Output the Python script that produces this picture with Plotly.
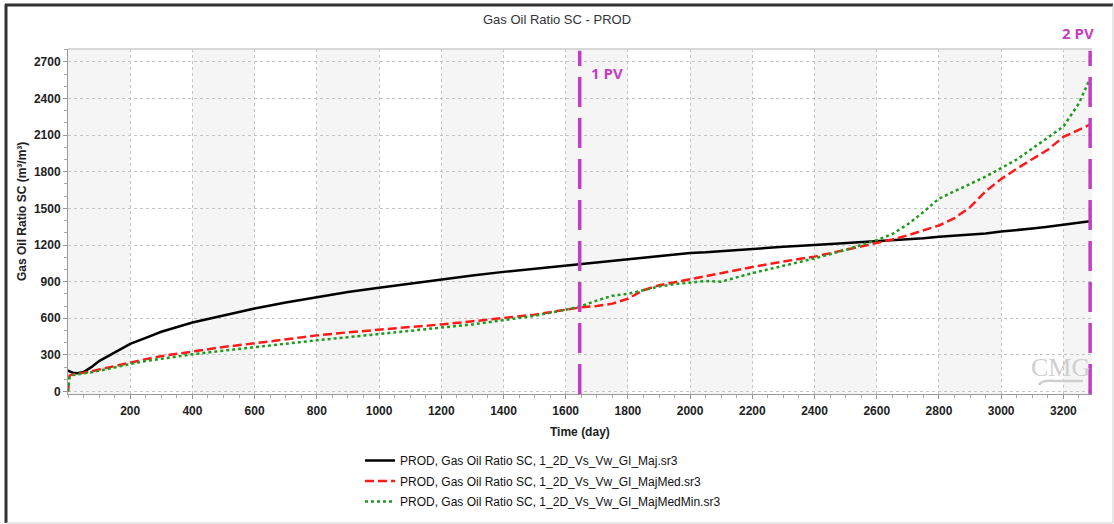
import plotly.graph_objects as go

# Simulation time (days)
time_day = [0, 5, 15, 30, 50, 75, 100, 150, 200, 250, 300, 400, 500, 600, 700, 800,
            900, 1000, 1100, 1200, 1300, 1400, 1500, 1600, 1650, 1700, 1750, 1800,
            1850, 1900, 1950, 2000, 2050, 2100, 2150, 2200, 2300, 2400, 2500, 2600,
            2650, 2700, 2750, 2800, 2850, 2900, 2950, 3000, 3050, 3100, 3150, 3200,
            3250, 3285]

# Gas oil ratio at surface conditions (m3/m3)
gor_maj = [175, 165, 155, 150, 160, 200, 250, 320, 390, 440, 490, 565, 625, 680, 730, 775,
           815, 850, 885, 915, 950, 980, 1005, 1030, 1045, 1060, 1070, 1085,
           1095, 1110, 1120, 1135, 1140, 1150, 1160, 1170, 1185, 1200, 1215, 1235,
           1240, 1250, 1255, 1268, 1275, 1285, 1295, 1310, 1320, 1335, 1350, 1365,
           1380, 1395]

gor_majmed = [0, 130, 140, 145, 155, 165, 180, 210, 240, 265, 290, 330, 365, 395, 430, 460,
              485, 505, 530, 550, 575, 600, 630, 670, 690, 700, 720, 760,
              830, 870, 895, 920, 950, 970, 995, 1020, 1065, 1105, 1160, 1214,
              1245, 1280, 1320, 1360, 1420, 1510, 1640, 1740, 1825, 1900, 1980, 2085,
              2140, 2185]

gor_majmedmin = [0, 120, 135, 140, 148, 158, 170, 200, 225, 250, 270, 305, 335, 365, 395, 420,
                 445, 470, 495, 520, 550, 585, 620, 670, 700, 745, 785, 800,
                 830, 860, 880, 890, 905, 900, 935, 970, 1030, 1090, 1160, 1240,
                 1290, 1370, 1470, 1580, 1640, 1700, 1760, 1830, 1900, 1990, 2080, 2170,
                 2360, 2560]

series_names = [
    "PROD, Gas Oil Ratio SC, 1_2D_Vs_Vw_GI_Maj.sr3",
    "PROD, Gas Oil Ratio SC, 1_2D_Vs_Vw_GI_MajMed.sr3",
    "PROD, Gas Oil Ratio SC, 1_2D_Vs_Vw_GI_MajMedMin.sr3",
]

# Pore volumes injected markers (day)
pv_days = [1645, 3286]
pv_labels = ["1 PV", "2 PV"]

x_ticks = list(range(200, 3201, 200))
y_ticks = list(range(0, 2701, 300))
x_range = [0, 3292]
y_range = [-20, 2805]

W, H = 1114, 524
ML, MR, MT, MB = 68, 22, 49, 130
PW, PH = W - ML - MR, H - MT - MB


def px_x(px):
    return (px - ML) / PW


def px_y(py):
    return 1 - (py - MT) / PH


FONT = "Liberation Sans, Arial, sans-serif"
PURPLE = "#c23fc4"

fig = go.Figure()

fig.add_trace(go.Scatter(x=time_day, y=gor_maj, mode="lines", name=series_names[0],
                         legendgroup="maj",
                         line=dict(color="#000000", width=2.5)))
fig.add_trace(go.Scatter(x=time_day, y=gor_majmed, mode="lines", name=series_names[1],
                         legendgroup="majmed",
                         line=dict(color="#ff1a1a", width=2.5, dash="9px,4px")))
fig.add_trace(go.Scatter(x=time_day, y=gor_majmedmin, mode="lines", name=series_names[2],
                         legendgroup="majmedmin",
                         line=dict(color="#1f9a1f", width=2.5, dash="dot")))

shapes = []
# alternating vertical bands
for k in range(0, x_range[1], 400):
    shapes.append(dict(type="rect", xref="x", yref="paper", x0=k, x1=min(k + 200, x_range[1]),
                       y0=0, y1=1, fillcolor="#f5f5f5", line=dict(width=0), layer="below"))
# top border of the plot area
shapes.append(dict(type="line", xref="paper", yref="paper", x0=0, x1=1, y0=1, y1=1,
                   line=dict(color="#d8d8d8", width=2)))
# PV markers
for d in pv_days:
    shapes.append(dict(type="line", xref="x", yref="paper", x0=d, x1=d, y0=0, y1=0.995,
                       line=dict(color=PURPLE, width=3.5, dash="30px,11px")))
# outer frame
shapes.append(dict(type="line", xref="paper", yref="paper", x0=px_x(6), x1=px_x(6),
                   y0=px_y(4), y1=px_y(523), line=dict(color="#333333", width=3)))
shapes.append(dict(type="line", xref="paper", yref="paper", x0=px_x(5), x1=px_x(1113),
                   y0=px_y(5), y1=px_y(5), line=dict(color="#333333", width=3)))
shapes.append(dict(type="line", xref="paper", yref="paper", x0=px_x(1113), x1=px_x(1113),
                   y0=px_y(5), y1=px_y(523), line=dict(color="#d0d0d0", width=1)))
shapes.append(dict(type="line", xref="paper", yref="paper", x0=px_x(6), x1=px_x(1113),
                   y0=px_y(523), y1=px_y(523), line=dict(color="#d0d0d0", width=1)))
# swoosh under the CMG watermark
shapes.append(dict(type="path", xref="paper", yref="paper",
                   path="M {} {} Q {} {} {} {} L {} {}".format(
                       px_x(1039), px_y(385), px_x(1041), px_y(380), px_x(1055), px_y(381),
                       px_x(1083), px_y(381)),
                   line=dict(color="#cfcfcf", width=2.5)))

annotations = [
    dict(text="<b>Gas Oil Ratio SC (m³/m³)</b>", xref="paper", yref="paper",
         x=px_x(22), y=px_y(212), xanchor="center", yanchor="middle",
         textangle=-90, showarrow=False,
         font=dict(family=FONT, size=12, color="#222")),
    dict(text="<b>Time (day)</b>", xref="paper", yref="paper",
         x=px_x(580), y=px_y(432), xanchor="center", yanchor="middle", showarrow=False,
         font=dict(family=FONT, size=12, color="#222")),
    dict(text="<b>" + pv_labels[0] + "</b>", xref="paper", yref="paper",
         x=px_x(589), y=px_y(73), xanchor="left", yanchor="middle", showarrow=False,
         font=dict(family="Open Sans, sans-serif", size=15, color=PURPLE)),
    dict(text="<b>" + pv_labels[1] + "</b>", xref="paper", yref="paper",
         x=px_x(1096), y=px_y(33), xanchor="right", yanchor="middle", showarrow=False,
         font=dict(family="Open Sans, sans-serif", size=15, color=PURPLE)),
    dict(text="CMG", xref="paper", yref="paper", x=px_x(1060), y=px_y(367),
         xanchor="center", yanchor="middle", showarrow=False,
         font=dict(family="Liberation Serif, serif", size=26, color="#cfcfcf")),
]

fig.update_layout(
    width=W, height=H,
    margin=dict(l=ML, r=MR, t=MT, b=MB, autoexpand=False),
    paper_bgcolor="white", plot_bgcolor="white",
    title=dict(text="Gas Oil Ratio SC - PROD", x=0.5, xref="container", xanchor="center",
               y=1 - 19 / H, yref="container", yanchor="middle",
               font=dict(family=FONT, size=13, color="#333")),
    shapes=shapes,
    annotations=annotations,
    showlegend=True,
    legend=dict(x=px_x(360), y=px_y(446), xanchor="left", yanchor="top",
                font=dict(family=FONT, size=12, color="#111"),
                bgcolor="rgba(0,0,0,0)", tracegroupgap=1.5, itemwidth=30),
)

fig.update_xaxes(range=x_range, tickmode="array", tickvals=x_ticks,
                 showgrid=True, gridcolor="#c4c4c4", griddash="dot", gridwidth=1,
                 showline=True, linecolor="#999", linewidth=1,
                 ticks="outside", ticklen=4, tickcolor="#999", ticklabelstandoff=2,
                 tickfont=dict(family=FONT, size=12, color="#222", weight="bold"),
                 minor=dict(tickmode="linear", tick0=0, dtick=50, ticks="outside",
                            ticklen=3, tickcolor="#aaa", showgrid=False),
                 zeroline=False)
fig.update_yaxes(range=y_range, tickmode="array", tickvals=y_ticks,
                 showgrid=True, gridcolor="#c4c4c4", griddash="dot", gridwidth=1,
                 showline=True, linecolor="#999", linewidth=1,
                 ticks="outside", ticklen=4, tickcolor="#999",
                 tickfont=dict(family=FONT, size=12, color="#222", weight="bold"),
                 minor=dict(tickmode="linear", tick0=0, dtick=100, ticks="outside",
                            ticklen=3, tickcolor="#aaa", showgrid=False),
                 zeroline=False)

fig.write_html("out.html")
